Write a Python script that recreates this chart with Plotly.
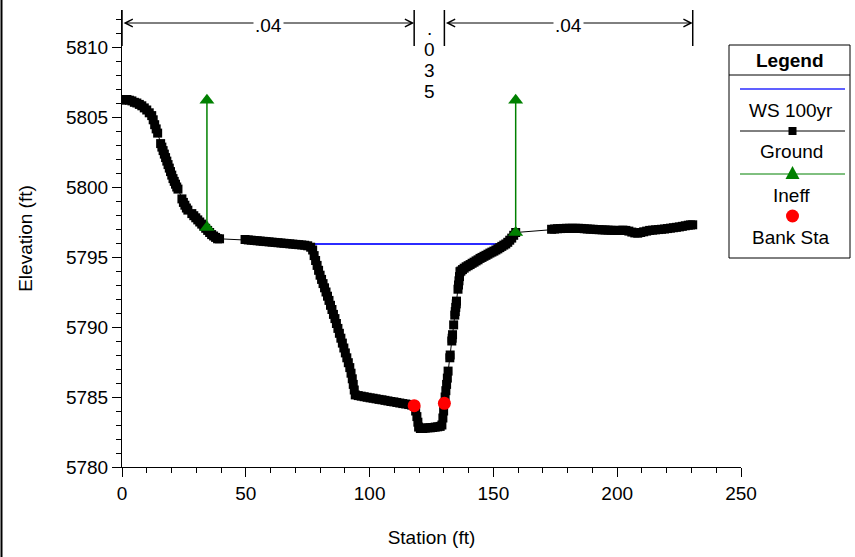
import plotly.graph_objects as go

# ---------------- data ----------------
ground_sta = [
    0, 1, 2, 3, 4, 5, 6, 7, 8, 9, 10, 11, 12, 12.6, 13.2, 13.8, 14.4,
    15.6, 16.1, 16.6, 17.1, 17.6, 18.1, 18.6, 19.1, 19.6, 20.1, 20.6, 21.1, 21.6, 22.1, 22.6,
    24.2, 24.8, 25.4, 26.0, 26.6,
    28.2, 29.0, 29.8, 30.6, 31.4, 32.2, 33.0, 33.8, 34.6, 35.4, 36.2, 37.0, 37.8, 38.6, 39.4,
    49.7, 51.0, 52.2, 53.4, 54.6, 55.8, 57.0, 58.2, 59.4, 60.6, 61.8, 63.0, 64.2, 65.4, 66.6,
    67.8, 69.0, 70.2, 71.4, 72.6, 73.8, 75.0, 76.2,
    77.0, 77.6, 78.2, 78.8, 79.4, 80.0, 80.6, 81.2, 81.8, 82.4, 83.0, 83.6, 84.2, 84.8, 85.4,
    86.0, 86.6, 87.2, 87.8, 88.4, 89.0, 89.6, 90.2, 90.8, 91.4, 92.0, 92.5, 93.0, 93.4, 93.8, 94.2,
    95.4, 96.6, 97.8, 99.0, 100.2, 101.4, 102.6, 103.8, 105.0, 106.2, 107.4, 108.6, 109.8,
    111.0, 112.2, 113.4, 114.6, 115.8, 117.0, 118.0,
    118.6, 119.1, 119.5, 119.8, 120.5, 121.5, 122.5, 123.5, 124.5, 125.5, 126.5, 127.5, 128.5,
    129.2, 129.6, 129.9, 130.2, 130.5, 130.8, 131.1, 131.4, 131.7,
    132.4, 132.55,
    133.2, 133.35, 133.5,
    133.95,
    134.4, 134.6, 134.8, 135.0, 135.1,
    135.7, 135.9, 136.1, 136.3, 136.5,
    136.9, 137.5, 138.2, 139.0, 139.8, 140.6, 141.4, 142.2, 143.0, 143.8, 144.6, 145.4, 146.2,
    147.0, 147.8, 148.6, 149.4, 150.2, 151.0, 151.8, 152.6, 153.4, 154.2, 155.0, 155.8, 156.6,
    157.4, 158.2, 159.0,
    173.5, 174.7, 175.9, 177.1, 178.3, 179.5, 180.7, 181.9, 183.1, 184.3, 185.5, 186.7, 187.9,
    189.1, 190.3, 191.5, 192.7, 193.9, 195.1, 196.3, 197.5, 198.7, 199.9, 201.1, 202.3, 203.5,
    204.7, 205.9, 207.1, 208.3, 209.5, 210.7, 211.9, 213.1, 214.3, 215.5, 216.7, 217.9, 219.1,
    220.3, 221.5, 222.7, 223.9, 225.1, 226.3, 227.5, 228.7, 229.6, 230.5,
]
ground_elev = [
    5806.2, 5806.25, 5806.25, 5806.2, 5806.15, 5806.05, 5806.0, 5805.9, 5805.8, 5805.65, 5805.5,
    5805.3, 5805.1, 5804.8, 5804.45, 5804.15, 5803.85,
    5803.1, 5802.85, 5802.6, 5802.35, 5802.1, 5801.85, 5801.6, 5801.35, 5801.1, 5800.85, 5800.6,
    5800.4, 5800.2, 5800.0, 5799.85,
    5799.15, 5798.9, 5798.7, 5798.5, 5798.35,
    5798.1, 5797.95, 5797.8, 5797.65, 5797.5, 5797.35, 5797.2, 5797.05, 5796.9, 5796.75, 5796.6,
    5796.5, 5796.4, 5796.3, 5796.3,
    5796.25, 5796.22, 5796.2, 5796.18, 5796.16, 5796.14, 5796.12, 5796.1, 5796.08, 5796.06,
    5796.04, 5796.02, 5796.0, 5795.98, 5795.96, 5795.94, 5795.92, 5795.9, 5795.88, 5795.86,
    5795.84, 5795.8, 5795.7,
    5795.5, 5795.1, 5794.75, 5794.4, 5794.05, 5793.7, 5793.4, 5793.1, 5792.8, 5792.5, 5792.2,
    5791.9, 5791.55, 5791.25, 5790.9, 5790.6, 5790.25, 5789.9, 5789.55, 5789.2, 5788.85, 5788.5,
    5788.15, 5787.8, 5787.45, 5787.1, 5786.7, 5786.3, 5785.9, 5785.5, 5785.15,
    5785.1, 5785.06, 5785.02, 5784.98, 5784.94, 5784.91, 5784.87, 5784.83, 5784.8, 5784.76,
    5784.72, 5784.68, 5784.65, 5784.61, 5784.57, 5784.53, 5784.5, 5784.46, 5784.42, 5784.38,
    5784.0, 5783.6, 5783.2, 5782.85, 5782.75, 5782.75, 5782.78, 5782.8, 5782.8, 5782.82, 5782.85,
    5782.87, 5782.9,
    5783.0, 5783.5, 5784.0, 5784.55, 5785.0, 5785.45, 5785.9, 5786.35, 5786.85,
    5787.8, 5788.0,
    5789.0, 5789.2, 5789.45,
    5790.15,
    5790.85, 5791.1, 5791.4, 5791.65, 5791.85,
    5792.7, 5793.0, 5793.3, 5793.6, 5793.95,
    5794.0, 5794.1, 5794.2, 5794.3, 5794.38, 5794.46, 5794.55, 5794.63, 5794.72, 5794.8, 5794.9,
    5794.97, 5795.05, 5795.12, 5795.2, 5795.28, 5795.35, 5795.42, 5795.5, 5795.58, 5795.67,
    5795.76, 5795.85, 5795.93, 5796.05, 5796.2, 5796.35, 5796.55, 5796.75,
    5796.98, 5797.0, 5797.02, 5797.03, 5797.04, 5797.05, 5797.05, 5797.05, 5797.05, 5797.05,
    5797.04, 5797.02, 5797.0, 5796.99, 5796.98, 5796.96, 5796.95, 5796.94, 5796.93, 5796.92,
    5796.91, 5796.9, 5796.9, 5796.9, 5796.92, 5796.9, 5796.85, 5796.78, 5796.72, 5796.7, 5796.75,
    5796.8, 5796.85, 5796.9, 5796.92, 5796.94, 5796.96, 5796.98, 5797.0, 5797.03, 5797.06,
    5797.09, 5797.12, 5797.15, 5797.19, 5797.23, 5797.27, 5797.29, 5797.3,
]

ws_sta = [71.2, 154.7]
ws_elev = [5795.93, 5795.93]

ineff_sta = [34.3, 34.3, None, 159.0, 159.0]
ineff_elev = [5797.1, 5806.2, None, 5796.75, 5806.2]

bank_sta = [118.0, 130.2]
bank_elev = [5784.38, 5784.55]

n_bounds = [0, 118.0, 130.2, 230.5]
n_values = [".04", ".035", ".04"]

legend_names = ["WS 100yr", "Ground", "Ineff", "Bank Sta"]

x_ticks = [0, 50, 100, 150, 200, 250]
y_ticks = [5780, 5785, 5790, 5795, 5800, 5805, 5810]

# ---------------- layout geometry ----------------
W, H = 855, 557
ML, MR, MT, MB = 122, 114, 10, 90
PW, PH = W - ML - MR, H - MT - MB
Y0 = 5780
YTOP = Y0 + PH / 14.0
FS = 19


def px(xp):
    return (xp - ML) / PW


def py(yp):
    return (H - MB - yp) / PH


def ey(yp):
    return Y0 + (H - MB - yp) / 14.0


FONT = "Arial, Liberation Sans, sans-serif"
TF = dict(family=FONT, size=FS, color="black")

fig = go.Figure()
fig.add_trace(go.Scatter(x=ws_sta, y=ws_elev, mode="lines", name=legend_names[0],
                         line=dict(color="#2b2bff", width=2)))
fig.add_trace(go.Scatter(x=ground_sta, y=ground_elev, mode="lines+markers", name=legend_names[1],
                         line=dict(color="black", width=1),
                         marker=dict(symbol="square", size=9, color="black")))
fig.add_trace(go.Scatter(x=ineff_sta, y=ineff_elev, mode="lines+markers", name=legend_names[2],
                         line=dict(color="#008000", width=1.5),
                         marker=dict(symbol="triangle-up", size=13, color="#008000")))
fig.add_trace(go.Scatter(x=bank_sta, y=bank_elev, mode="markers", name=legend_names[3],
                         marker=dict(symbol="circle", size=13, color="#ff0000")))

shapes = []
annotations = []

# Manning's n region markers at top
y_arrow = ey(23)
for b in n_bounds:
    shapes.append(dict(type="line", xref="x", yref="y", x0=b, x1=b,
                       y0=ey(46), y1=YTOP, line=dict(color="black", width=1.5)))
for i, nv in enumerate(n_values):
    a, b = n_bounds[i], n_bounds[i + 1]
    mid = (a + b) / 2
    if b - a > 30:
        annotations.append(dict(x=b, y=y_arrow, ax=a, ay=y_arrow, xref="x", yref="y",
                                axref="x", ayref="y", text="", showarrow=True,
                                arrowhead=5, arrowside="end+start", arrowsize=1.5,
                                arrowwidth=1, arrowcolor="black", standoff=0, startstandoff=0))
        annotations.append(dict(x=mid, y=ey(25), xref="x", yref="y", text=nv, showarrow=False,
                                bgcolor="white", borderpad=1, xanchor="center", yanchor="middle",
                                font=TF))
    else:
        for k, ch in enumerate(nv):
            annotations.append(dict(x=mid, y=ey(28 + 21 * k), xref="x", yref="y", text=ch,
                                    showarrow=False, xanchor="center", yanchor="middle", font=TF))

# custom legend box
LX0, LX1, LY0, LY1 = 729, 850, 45, 258
CX = (LX0 + LX1) / 2
shapes.append(dict(type="rect", xref="paper", yref="paper", x0=px(LX0), x1=px(LX1),
                   y0=py(LY1), y1=py(LY0), line=dict(color="black", width=1),
                   fillcolor="white", layer="below"))
shapes.append(dict(type="line", xref="paper", yref="paper", x0=px(LX0), x1=px(LX1),
                   y0=py(75), y1=py(75), line=dict(color="black", width=1)))
annotations.append(dict(xref="paper", yref="paper", x=px(CX), y=py(60), text="<b>Legend</b>",
                        showarrow=False, xanchor="center", yanchor="middle", font=TF))
# WS line
shapes.append(dict(type="line", xref="paper", yref="paper", x0=px(740), x1=px(845),
                   y0=py(89), y1=py(89), line=dict(color="#2b2bff", width=1.5)))
# Ground line + square
shapes.append(dict(type="line", xref="paper", yref="paper", x0=px(740), x1=px(845),
                   y0=py(131), y1=py(131), line=dict(color="black", width=1)))
shapes.append(dict(type="rect", xref="paper", yref="paper", x0=px(CX + 3 - 4), x1=px(CX + 3 + 4),
                   y0=py(135), y1=py(127), line=dict(width=0), fillcolor="black"))
# Ineff line + triangle
shapes.append(dict(type="line", xref="paper", yref="paper", x0=px(740), x1=px(845),
                   y0=py(174), y1=py(174), line=dict(color="#008000", width=1)))
tx, ty = CX + 3, 174
shapes.append(dict(type="path", xref="paper", yref="paper",
                   path=f"M {px(tx-7)},{py(ty+5)} L {px(tx+7)},{py(ty+5)} L {px(tx)},{py(ty-8)} Z",
                   line=dict(width=0), fillcolor="#008000"))
# Bank Sta circle
shapes.append(dict(type="circle", xref="paper", yref="paper", x0=px(CX + 3 - 6.5), x1=px(CX + 3 + 6.5),
                   y0=py(216 + 6.5), y1=py(216 - 6.5), line=dict(width=0), fillcolor="#ff0000"))
for name, yy in zip(legend_names, [110, 151, 195, 237]):
    annotations.append(dict(xref="paper", yref="paper", x=px(CX + 2), y=py(yy), text=name,
                            showarrow=False, xanchor="center", yanchor="middle", font=TF))

# left frame line
shapes.append(dict(type="line", xref="paper", yref="paper", x0=px(1.5), x1=px(1.5),
                   y0=py(H), y1=py(0), line=dict(color="black", width=2)))

fig.update_layout(
    width=W, height=H,
    margin=dict(l=ML, r=MR, t=MT, b=MB, autoexpand=False),
    paper_bgcolor="white", plot_bgcolor="white",
    showlegend=False,
    font=TF,
    shapes=shapes, annotations=annotations,
)
fig.update_xaxes(range=[0, 250], tickvals=x_ticks, ticks="outside", ticklen=9, tickcolor="black",
                 showline=True, linecolor="black", linewidth=1, showgrid=False, zeroline=False,
                 minor=dict(dtick=10, ticks="outside", ticklen=5, tickcolor="black"),
                 tickfont=TF,
                 title=dict(text="Station (ft)", standoff=27, font=TF))
fig.update_yaxes(range=[Y0, YTOP], tickvals=y_ticks, ticks="outside", ticklen=9, tickcolor="black",
                 showline=True, linecolor="black", linewidth=1, showgrid=False, zeroline=False,
                 minor=dict(dtick=1, ticks="outside", ticklen=5, tickcolor="black"),
                 tickfont=TF,
                 title=dict(text="Elevation (ft)", standoff=28, font=TF))

fig.write_html("out.html", config={"displayModeBar": False},
               post_script="document.body.style.margin='0';")
